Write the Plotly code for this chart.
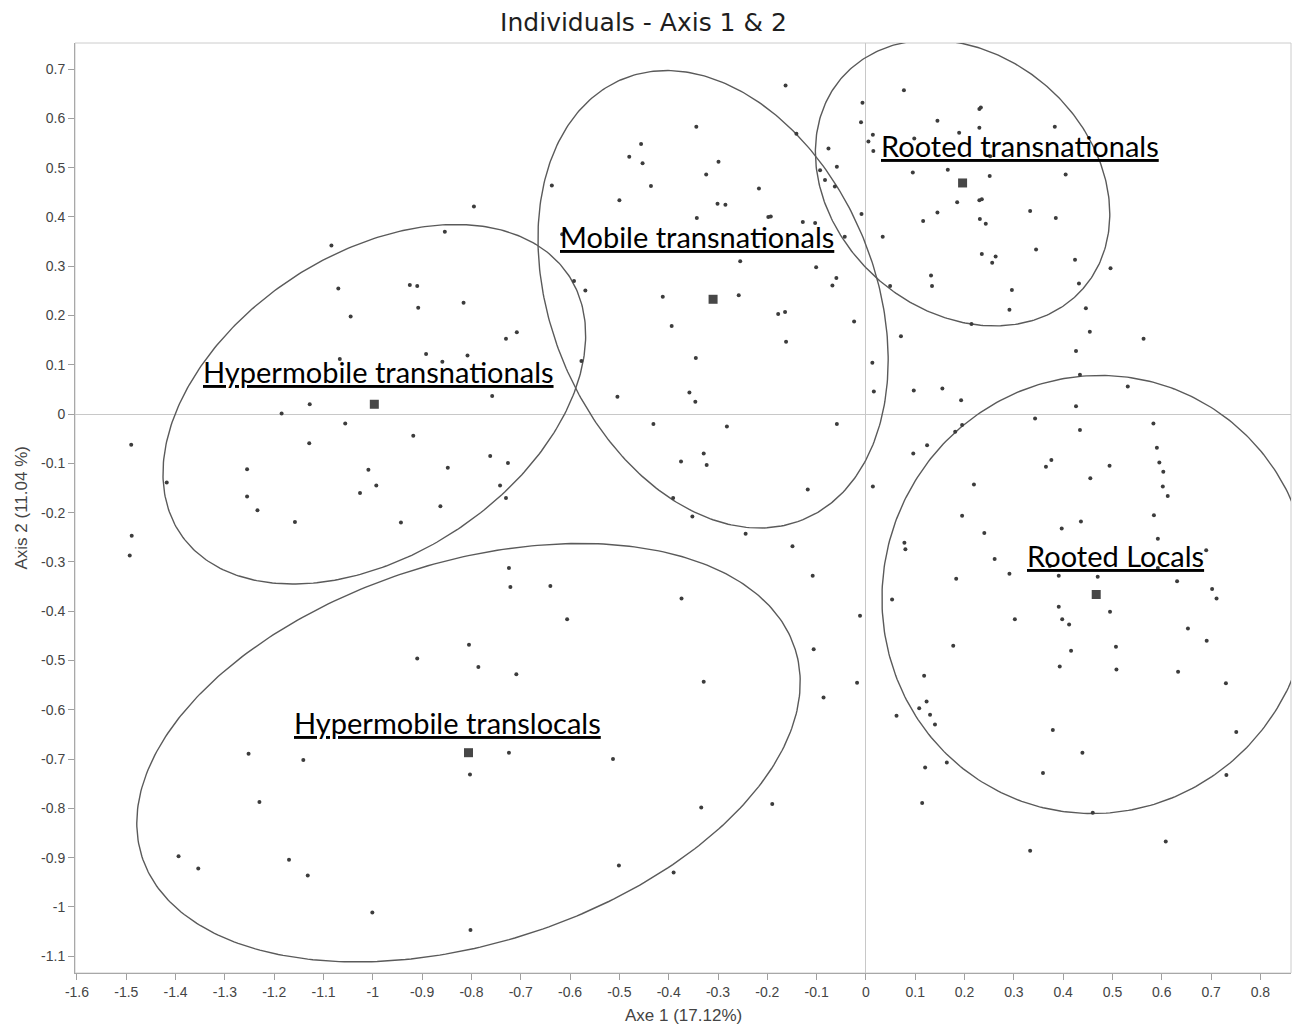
import numpy as np
import plotly.graph_objects as go

# ---------------- data ----------------
x_points = [
    -1.084, -1.070, -1.045, -0.925, -0.910, -0.908,
    -0.163, -0.007, -0.010, 0.005, -0.344, -0.456, -0.480, -0.453, -0.299, -0.324,
    -0.436, -0.637, -0.217, -0.141, -0.076, -0.059, -0.093, -0.083, -0.063, -0.009,
    -0.500, -0.301, -0.285, -0.343, -0.198, -0.193, -0.128, -0.103, -0.043, -0.795,
    -0.854, -0.255, -0.101, -0.060, -0.068, -0.024, -0.592, -0.569, -0.616, -0.412,
    -0.258, -0.394, -0.178, -0.164, -0.162, -0.345, -0.816, -0.730, -0.708, -0.808,
    -0.859, -0.577,
    0.077, 0.230, 0.233, 0.145, 0.189, 0.230, 0.383, 0.014, 0.098, 0.015, 0.252,
    0.166, 0.095, 0.251, 0.405, 0.185, 0.230, 0.235, 0.145, 0.116, 0.231, 0.243,
    0.333, 0.385, 0.034, 0.345, 0.235, 0.263, 0.256, 0.424, 0.496, 0.132, 0.134,
    0.049, 0.296, 0.432, 0.291, 0.446, 0.214, 0.071, 0.454, 0.563, 0.426, 0.013, 0.434,
    -1.067, -0.892, -1.128, -1.185, -1.056, -1.129, -0.918, -1.490, -1.255, -1.009,
    -1.418, -0.993, -1.026, -1.255, -1.234, -1.158, -0.943, -1.489, -1.493, -0.910,
    -0.758, -0.504, -0.358, -0.346, -0.431, -0.282, -0.059, -0.762, -0.726, -0.848,
    -0.375, -0.329, -0.323, -0.742, -0.730, -0.863, -0.118, -0.391, -0.352, -0.244,
    -0.149, -0.724, -0.721, -0.640, -0.108, -0.374, -0.606, -0.012, -0.106, -0.805,
    -0.786, -0.709, -0.329, -0.018, -0.086,
    0.016, 0.097, 0.155, 0.193, 0.531, 0.426, 0.343, 0.583, 0.434, 0.195, 0.181,
    0.096, 0.124, 0.590, 0.376, 0.365, 0.494, 0.595, 0.603, 0.455, 0.014, 0.219,
    0.602, 0.612, 0.195, 0.584, 0.436, 0.397, 0.240, 0.592, 0.078, 0.080, 0.690,
    0.261, 0.373, 0.592, 0.291, 0.391, 0.470, 0.183, 0.631, 0.702, 0.711, 0.053,
    0.391, 0.495, 0.398, 0.412, 0.302, 0.653, 0.691, 0.177, 0.416, 0.507, 0.393,
    0.508, 0.633, 0.730, 0.118, 0.123, 0.108,
    0.130, 0.140, 0.062, 0.379, 0.751, 0.439, 0.359, 0.120, 0.164, 0.731, 0.114,
    0.460, 0.333, 0.608,
    -1.252, -1.141, -1.230, -1.394, -1.354, -1.170, -1.132, -1.001,
    -0.724, -0.513, -0.803, -0.334, -0.190, -0.501, -0.390, -0.802,
]
y_points = [
    0.342, 0.255, 0.198, 0.262, 0.260, 0.216,
    0.667, 0.632, 0.592, 0.553, 0.583, 0.548, 0.522, 0.509, 0.512, 0.486,
    0.463, 0.464, 0.458, 0.569, 0.539, 0.502, 0.495, 0.475, 0.462, 0.406,
    0.434, 0.427, 0.425, 0.398, 0.400, 0.401, 0.390, 0.388, 0.360, 0.421,
    0.370, 0.310, 0.298, 0.276, 0.261, 0.188, 0.270, 0.251, 0.365, 0.238,
    0.241, 0.179, 0.203, 0.207, 0.147, 0.114, 0.226, 0.153, 0.166, 0.119,
    0.106, 0.108,
    0.657, 0.619, 0.622, 0.595, 0.571, 0.581, 0.583, 0.567, 0.559, 0.534, 0.523,
    0.496, 0.490, 0.483, 0.486, 0.430, 0.434, 0.436, 0.409, 0.392, 0.396, 0.386,
    0.412, 0.398, 0.360, 0.334, 0.325, 0.320, 0.307, 0.313, 0.296, 0.281, 0.260,
    0.260, 0.252, 0.265, 0.212, 0.215, 0.183, 0.158, 0.167, 0.153, 0.128, 0.104, 0.080,
    0.112, 0.122, 0.020, 0.001, -0.019, -0.059, -0.044, -0.062, -0.112, -0.113,
    -0.139, -0.145, -0.160, -0.167, -0.195, -0.219, -0.220, -0.247, -0.287, -0.496,
    0.037, 0.035, 0.044, 0.025, -0.020, -0.025, -0.020, -0.085, -0.099, -0.109,
    -0.096, -0.080, -0.103, -0.145, -0.170, -0.187, -0.153, -0.170, -0.208, -0.243,
    -0.268, -0.312, -0.351, -0.349, -0.328, -0.374, -0.416, -0.409, -0.477, -0.468,
    -0.513, -0.528, -0.543, -0.545, -0.575,
    0.046, 0.048, 0.052, 0.028, 0.056, 0.016, -0.009, -0.019, -0.032, -0.022, -0.036,
    -0.080, -0.063, -0.068, -0.093, -0.107, -0.105, -0.098, -0.117, -0.130, -0.147, -0.143,
    -0.147, -0.166, -0.206, -0.205, -0.218, -0.232, -0.241, -0.253, -0.261, -0.274, -0.276,
    -0.294, -0.308, -0.312, -0.324, -0.328, -0.330, -0.334, -0.339, -0.355, -0.374, -0.376,
    -0.391, -0.401, -0.416, -0.427, -0.416, -0.435, -0.460, -0.470, -0.480, -0.472, -0.512,
    -0.518, -0.523, -0.546, -0.531, -0.583, -0.597,
    -0.610, -0.630, -0.612, -0.641, -0.645, -0.687, -0.728, -0.717, -0.707, -0.732, -0.789,
    -0.809, -0.886, -0.867,
    -0.689, -0.702, -0.787, -0.897, -0.922, -0.904, -0.936, -1.011,
    -0.687, -0.700, -0.731, -0.798, -0.791, -0.916, -0.930, -1.047,
]

group_names = ["Hypermobile transnationals", "Mobile transnationals",
               "Rooted transnationals", "Rooted Locals", "Hypermobile translocals"]
centroid_x = [-0.997, -0.310, 0.196, 0.467, -0.806]
centroid_y = [0.020, 0.233, 0.469, -0.366, -0.687]
ellipse_a = [0.473, 0.483, 0.325, 0.446, 0.695]
ellipse_b = [0.305, 0.329, 0.260, 0.433, 0.387]
ellipse_angle_deg = [33.6, -67.8, -41.2, 70.2, 17.6]
label_x = [-0.989, -0.342, 0.313, 0.506, -0.849]
label_y = [0.086, 0.360, 0.546, -0.286, -0.626]

x_tickvals = [-1.6, -1.5, -1.4, -1.3, -1.2, -1.1, -1.0, -0.9, -0.8, -0.7, -0.6, -0.5,
              -0.4, -0.3, -0.2, -0.1, 0.0, 0.1, 0.2, 0.3, 0.4, 0.5, 0.6, 0.7, 0.8]
x_ticktext = ["-1.6", "-1.5", "-1.4", "-1.3", "-1.2", "-1.1", "-1", "-0.9", "-0.8", "-0.7",
              "-0.6", "-0.5", "-0.4", "-0.3", "-0.2", "-0.1", "0", "0.1", "0.2", "0.3",
              "0.4", "0.5", "0.6", "0.7", "0.8"]
y_tickvals = [0.7, 0.6, 0.5, 0.4, 0.3, 0.2, 0.1, 0.0, -0.1, -0.2, -0.3, -0.4, -0.5,
              -0.6, -0.7, -0.8, -0.9, -1.0, -1.1]
y_ticktext = ["0.7", "0.6", "0.5", "0.4", "0.3", "0.2", "0.1", "0", "-0.1", "-0.2", "-0.3",
              "-0.4", "-0.5", "-0.6", "-0.7", "-0.8", "-0.9", "-1", "-1.1"]

title_text = "Individuals - Axis 1 & 2"
x_title = "Axe 1 (17.12%)"
y_title = "Axis 2 (11.04 %)"

# ---------------- figure ----------------
fig = go.Figure()

t = np.linspace(0, 2 * np.pi, 361)
for cx, cy, a, b, ang in zip(centroid_x, centroid_y, ellipse_a, ellipse_b, ellipse_angle_deg):
    th = np.deg2rad(ang)
    ex = cx + a * np.cos(t) * np.cos(th) - b * np.sin(t) * np.sin(th)
    ey = cy + a * np.cos(t) * np.sin(th) + b * np.sin(t) * np.cos(th)
    fig.add_trace(go.Scatter(x=ex, y=ey, mode="lines",
                             line=dict(color="#5a5a5a", width=1.4),
                             hoverinfo="skip", showlegend=False))

fig.add_trace(go.Scatter(x=x_points, y=y_points, mode="markers",
                         marker=dict(size=4, color="#3c3c3c", line=dict(width=0)),
                         showlegend=False, hoverinfo="skip"))

fig.add_trace(go.Scatter(x=centroid_x, y=centroid_y, mode="markers",
                         marker=dict(size=9, symbol="square", color="#474747",
                                     line=dict(width=0)),
                         showlegend=False, hoverinfo="skip"))

for name, lx, ly in zip(group_names, label_x, label_y):
    fig.add_annotation(x=lx, y=ly, xref="x", yref="y", text=name, showarrow=False,
                       xanchor="center", yanchor="middle",
                       font=dict(family="Lato, Carlito, Calibri, sans-serif", size=29,
                                 color="#000000", lineposition="under"))

fig.add_annotation(x=0.5, y=-0.0452, xref="paper", yref="paper", text=x_title,
                   showarrow=False, xanchor="center", yanchor="middle",
                   font=dict(family="Liberation Sans, Arial, sans-serif", size=17,
                             color="#444444"))
fig.add_annotation(x=-0.0448, y=0.5, xref="paper", yref="paper", text=y_title,
                   showarrow=False, xanchor="center", yanchor="middle", textangle=-90,
                   font=dict(family="Liberation Sans, Arial, sans-serif", size=17,
                             color="#444444"))

axis_common = dict(
    showgrid=False,
    zeroline=True, zerolinecolor="#c8c8c8", zerolinewidth=1,
    showline=True, linecolor="#a8a8a8", linewidth=1, mirror=False,
    ticks="outside", ticklen=6, tickcolor="#a0a0a0", tickwidth=1,
    tickfont=dict(family="Liberation Sans, Arial, sans-serif", size=14, color="#444444"),
)

fig.update_xaxes(range=[-1.604, 0.862], tickmode="array", tickvals=x_tickvals,
                 ticktext=x_ticktext, **axis_common)
fig.update_yaxes(range=[-1.134, 0.753], tickmode="array", tickvals=y_tickvals,
                 ticktext=y_ticktext, **axis_common)

# light frame around plot area
fig.add_shape(type="rect", xref="paper", yref="paper", x0=0, y0=0, x1=1, y1=1,
              line=dict(color="#cccccc", width=1), layer="below")

fig.update_layout(
    width=1296, height=1025,
    margin=dict(l=75, r=5, t=43, b=52),
    paper_bgcolor="white", plot_bgcolor="white",
    title=dict(text=title_text, x=0.4965, xref="container", xanchor="center",
               y=1 - 22 / 1025, yref="container", yanchor="middle",
               font=dict(family="DejaVu Sans, Verdana, sans-serif", size=25,
                         color="#1e1e1e")),
    hovermode=False,
)

fig.write_html("out.html", config={"displayModeBar": False},
               post_script="document.body.style.margin='0';")
